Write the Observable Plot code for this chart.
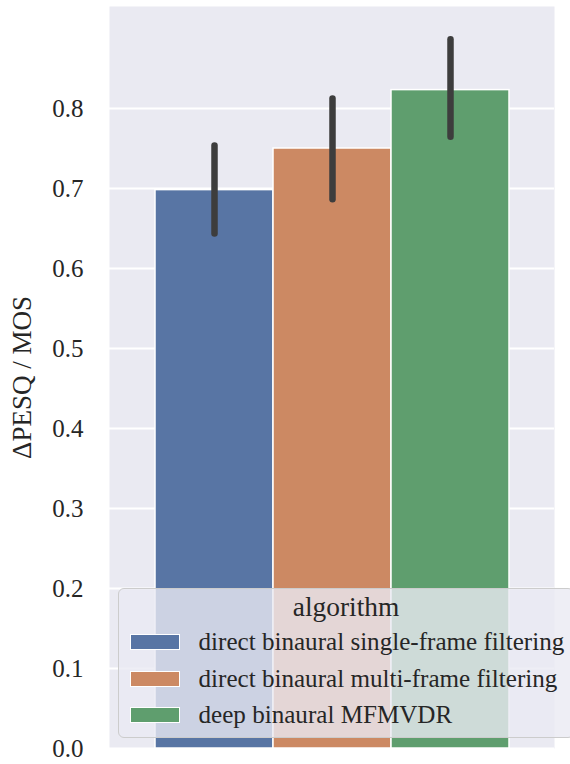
<!DOCTYPE html>
<html>
<head>
<meta charset="utf-8">
<script src="https://cdn.jsdelivr.net/npm/d3@7"></script>
<script src="https://cdn.jsdelivr.net/npm/@observablehq/plot@0.6"></script>
<style>
  html, body { margin: 0; padding: 0; background: #fff; overflow: hidden; }
  #wrap { position: relative; width: 570px; height: 764px; overflow: hidden; font-family: "Liberation Serif", "Times New Roman", serif; }
  #wrap svg text { font-family: "Liberation Serif", "Times New Roman", serif; }
  #legend { position: absolute; left: 118px; top: 588px; width: 456px; height: 150px; box-sizing: border-box;
    background: rgba(234,234,242,0.8); border: 1.5px solid #cccccc; border-radius: 6px; }
  #legend .title { position: absolute; left: 0; right: 0; top: 2px; height: 32px; line-height: 32px; text-align: center; font-size: 27.4px; color: #262626; }
  #legend .row { position: absolute; left: 10.5px; height: 30px; line-height: 30px; display: flex; align-items: center; font-size: 25.1px; color: #262626; white-space: nowrap; }
  #legend .sw { width: 50px; height: 16px; border: 1.5px solid #fff; margin-right: 19px; box-sizing: border-box; flex: none; }
</style>
</head>
<body>
<div id="wrap"></div>
<script>
const algorithms = [
  "direct binaural single-frame filtering",
  "direct binaural multi-frame filtering",
  "deep binaural MFMVDR"
];
const means = [0.698, 0.750, 0.823];
const ciLow = [0.643, 0.686, 0.764];
const ciHigh = [0.753, 0.812, 0.886];
const colors = ["#5875a4", "#cc8963", "#5f9e6e"];
const yTicks = [0, 0.1, 0.2, 0.3, 0.4, 0.5, 0.6, 0.7, 0.8];

const data = algorithms.map((a, i) => ({algorithm: a, value: means[i], lo: ciLow[i], hi: ciHigh[i]}));

const chart = Plot.plot({
  width: 570,
  height: 764,
  marginLeft: 109,
  marginRight: 16,
  marginTop: 6,
  marginBottom: 16,
  style: {fontFamily: "'Liberation Serif', 'Times New Roman', serif", color: "#262626", background: "#ffffff"},
  x: {domain: algorithms, padding: 0, insetLeft: 44.5, insetRight: 44.5, axis: null},
  y: {domain: [0, 0.9275]},
  color: {domain: algorithms, range: colors},
  marks: [
    Plot.frame({fill: "#EAEAF2", stroke: null}),
    Plot.gridY(yTicks, {stroke: "#ffffff", strokeOpacity: 1, strokeWidth: 2}),
    Plot.barY(data, {x: "algorithm", y: "value", fill: "algorithm", stroke: "#ffffff", strokeWidth: 1.5}),
    Plot.ruleX(data, {x: "algorithm", y1: "lo", y2: "hi", stroke: "#3d3d3d", strokeWidth: 6.5, strokeLinecap: "round"}),
    Plot.axisY(yTicks, {tickSize: 0, tickPadding: 26, tickFormat: d3.format(".1f"), fontSize: 25,
      label: null}),
    Plot.axisY({tickSize: 0, ticks: [], fontSize: 27,
      label: "ΔPESQ / MOS", labelAnchor: "center", labelArrow: "none", labelOffset: 98})
  ]
});
const wrap = document.getElementById("wrap");
wrap.appendChild(chart);

const legend = document.createElement("div");
legend.id = "legend";
const title = document.createElement("div");
title.className = "title";
title.textContent = "algorithm";
legend.appendChild(title);
algorithms.forEach((a, i) => {
  const row = document.createElement("div");
  row.className = "row";
  row.style.top = (38 + i * 36.5) + "px";
  const sw = document.createElement("div");
  sw.className = "sw";
  sw.style.background = colors[i];
  const t = document.createElement("span");
  t.textContent = a;
  row.appendChild(sw);
  row.appendChild(t);
  legend.appendChild(row);
});
wrap.appendChild(legend);
</script>
</body>
</html>
